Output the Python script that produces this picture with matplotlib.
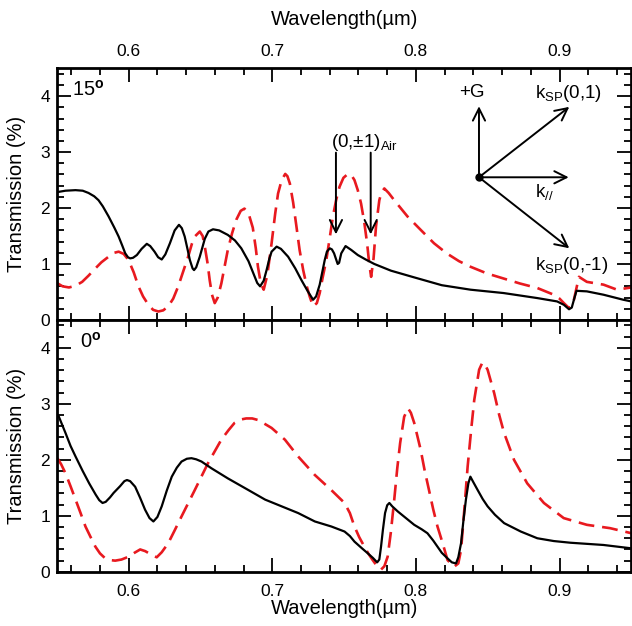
import matplotlib
matplotlib.use("Agg")
import matplotlib.pyplot as plt
from matplotlib.ticker import MultipleLocator

plt.rcParams['font.family'] = ['Liberation Sans', 'DejaVu Sans']
plt.rcParams['mathtext.fontset'] = 'custom'
plt.rcParams['mathtext.rm'] = 'Liberation Sans'
plt.rcParams['mathtext.it'] = 'Liberation Sans'
plt.rcParams['mathtext.bf'] = 'Liberation Sans:bold'

RED = '#e8191f'

# ---- 15 degree incidence ----
wl_15_black = [0.5514, 0.556, 0.563, 0.568, 0.572, 0.576, 0.579, 0.582, 0.586, 0.590,
               0.593, 0.5955, 0.5976, 0.5995, 0.601, 0.603, 0.6057, 0.609, 0.6126, 0.615,
               0.618, 0.6205, 0.623, 0.6255, 0.6287, 0.632, 0.635, 0.637, 0.639, 0.641,
               0.6426, 0.6445, 0.6455, 0.647, 0.6495, 0.653, 0.6555, 0.6587, 0.663, 0.669,
               0.674, 0.6784, 0.6834, 0.687, 0.6895, 0.6915, 0.694, 0.696, 0.698, 0.6995,
               0.703, 0.706, 0.711, 0.716, 0.7203, 0.7245, 0.7284, 0.7305, 0.733, 0.7365,
               0.738, 0.740, 0.7415, 0.743, 0.7455, 0.7465, 0.748, 0.751, 0.755, 0.7595,
               0.765, 0.771, 0.7826, 0.7988, 0.818, 0.838, 0.861, 0.8845, 0.8983, 0.903,
               0.9066, 0.9085, 0.910, 0.9118, 0.919, 0.9306, 0.9444, 0.95]
T_15_black = [2.29, 2.31, 2.32, 2.31, 2.27, 2.21, 2.14, 2.03, 1.85, 1.65,
              1.49, 1.33, 1.19, 1.12, 1.10, 1.11, 1.16, 1.27, 1.36, 1.32,
              1.22, 1.12, 1.08, 1.17, 1.37, 1.60, 1.70, 1.64, 1.49, 1.26,
              1.07, 0.92, 0.89, 0.94, 1.13, 1.45, 1.58, 1.62, 1.60, 1.52,
              1.42, 1.28, 1.05, 0.82, 0.66, 0.60, 0.70, 0.89, 1.10, 1.22,
              1.31, 1.27, 1.13, 0.92, 0.71, 0.52, 0.36, 0.42, 0.63, 1.07,
              1.22, 1.28, 1.26, 1.19, 1.00, 1.02, 1.19, 1.32, 1.25, 1.16,
              1.08, 1.00, 0.88, 0.76, 0.62, 0.54, 0.48, 0.39, 0.33, 0.27,
              0.19, 0.22, 0.36, 0.52, 0.51, 0.45, 0.36, 0.33]

wl_15_red = [0.55, 0.554, 0.5584, 0.563, 0.5676, 0.572, 0.5768, 0.581, 0.586, 0.590,
             0.593, 0.5965, 0.5999, 0.6035, 0.6068, 0.610, 0.6137, 0.617, 0.6206, 0.624,
             0.6275, 0.631, 0.6345, 0.638, 0.6414, 0.644, 0.646, 0.6495, 0.6515, 0.653,
             0.655, 0.6564, 0.658, 0.6599, 0.662, 0.6645, 0.669, 0.672, 0.6749, 0.678,
             0.6806, 0.6835, 0.6864, 0.6885, 0.690, 0.692, 0.694, 0.6965, 0.6995, 0.702,
             0.704, 0.7065, 0.709, 0.7105, 0.7122, 0.7145, 0.7168, 0.719, 0.7215, 0.724,
             0.726, 0.7284, 0.731, 0.733, 0.735, 0.7376, 0.740, 0.7422, 0.7445, 0.7468,
             0.7495, 0.7526, 0.755, 0.7572, 0.7595, 0.7618, 0.764, 0.766, 0.7675, 0.7688,
             0.7705, 0.7722, 0.7745, 0.776, 0.778, 0.781, 0.7849, 0.7941, 0.8033, 0.8126,
             0.8214, 0.830, 0.838, 0.8495, 0.861, 0.8725, 0.8845, 0.896, 0.900, 0.903,
             0.9066, 0.9085, 0.910, 0.9135, 0.919, 0.9306, 0.940, 0.95]
T_15_red = [0.66, 0.60, 0.58, 0.61, 0.68, 0.79, 0.92, 1.03, 1.13, 1.20,
            1.22, 1.18, 1.07, 0.85, 0.60, 0.42, 0.27, 0.18, 0.15, 0.17,
            0.24, 0.38, 0.60, 0.87, 1.13, 1.36, 1.49, 1.58, 1.50, 1.31,
            1.00, 0.71, 0.45, 0.30, 0.40, 0.65, 1.25, 1.55, 1.79, 1.95,
            1.99, 1.90, 1.65, 1.28, 0.95, 0.65, 0.54, 0.80, 1.37, 1.90,
            2.26, 2.50, 2.61, 2.57, 2.44, 2.10, 1.67, 1.25, 0.89, 0.60,
            0.42, 0.24, 0.30, 0.48, 0.75, 1.07, 1.47, 1.85, 2.15, 2.38,
            2.54, 2.61, 2.59, 2.50, 2.32, 2.08, 1.75, 1.37, 1.00, 0.77,
            1.10, 1.67, 2.14, 2.28, 2.35, 2.27, 2.14, 1.85, 1.61, 1.37,
            1.19, 1.05, 0.95, 0.83, 0.74, 0.65, 0.57, 0.45, 0.38, 0.30,
            0.21, 0.25, 0.36, 0.77, 0.68, 0.63, 0.54, 0.58]

# ---- normal incidence ----
wl_0_black = [0.5514, 0.556, 0.5595, 0.563, 0.568, 0.5725, 0.577, 0.5795, 0.5818, 0.584,
              0.587, 0.5895, 0.594, 0.597, 0.5988, 0.601, 0.6045, 0.608, 0.6114, 0.6145,
              0.6172, 0.620, 0.623, 0.6265, 0.630, 0.6335, 0.6368, 0.6405, 0.6437, 0.647,
              0.6507, 0.6576, 0.669, 0.6834, 0.695, 0.7065, 0.718, 0.7296, 0.7411, 0.7503,
              0.754, 0.7572, 0.762, 0.7665, 0.770, 0.773, 0.7745, 0.7757, 0.777, 0.7785,
              0.780, 0.7815, 0.7835, 0.7873, 0.7988, 0.804, 0.808, 0.812, 0.815, 0.818,
              0.822, 0.825, 0.8279, 0.8295, 0.8314, 0.833, 0.8348, 0.8365, 0.8379, 0.840,
              0.843, 0.8465, 0.8499, 0.855, 0.8614, 0.873, 0.8845, 0.896, 0.9076, 0.9306,
              0.95]
T_0_black = [2.77, 2.48, 2.25, 2.06, 1.80, 1.58, 1.38, 1.28, 1.23, 1.25,
             1.33, 1.41, 1.53, 1.62, 1.64, 1.62, 1.52, 1.32, 1.11, 0.96,
             0.90, 0.98, 1.17, 1.45, 1.70, 1.86, 1.97, 2.02, 2.03, 2.01,
             1.97, 1.85, 1.67, 1.46, 1.29, 1.17, 1.05, 0.90, 0.81, 0.72,
             0.64, 0.54, 0.43, 0.33, 0.25, 0.17, 0.22, 0.45, 0.75, 1.05,
             1.19, 1.23, 1.17, 1.08, 0.84, 0.76, 0.69, 0.56, 0.45, 0.34,
             0.24, 0.17, 0.15, 0.26, 0.51, 0.90, 1.29, 1.58, 1.70, 1.60,
             1.46, 1.30, 1.17, 1.02, 0.87, 0.72, 0.60, 0.55, 0.52, 0.48,
             0.42]

wl_0_red = [0.5504, 0.553, 0.556, 0.5595, 0.563, 0.5665, 0.5699, 0.5735, 0.5768, 0.580,
            0.5837, 0.587, 0.5906, 0.595, 0.5999, 0.604, 0.608, 0.6115, 0.6149, 0.6195,
            0.623, 0.6275, 0.632, 0.6368, 0.646, 0.6552, 0.6645, 0.6695, 0.6737, 0.678,
            0.6818, 0.686, 0.6903, 0.6995, 0.7088, 0.718, 0.7296, 0.7411, 0.7503, 0.754,
            0.7572, 0.7605, 0.7641, 0.767, 0.7699, 0.773, 0.7757, 0.778, 0.7803, 0.7825,
            0.7849, 0.787, 0.789, 0.7918, 0.7945, 0.7965, 0.7988, 0.8033, 0.806, 0.8091,
            0.812, 0.815, 0.8185, 0.822, 0.8265, 0.8295, 0.8314, 0.8335, 0.836, 0.8385,
            0.8406, 0.844, 0.8463, 0.848, 0.8499, 0.8545, 0.858, 0.8614, 0.8683, 0.8775,
            0.8891, 0.9029, 0.919, 0.9352, 0.95]
T_0_red = [2.03, 1.92, 1.76, 1.53, 1.29, 1.05, 0.81, 0.62, 0.45, 0.33,
           0.24, 0.21, 0.20, 0.22, 0.27, 0.34, 0.40, 0.37, 0.32, 0.26,
           0.35, 0.51, 0.74, 0.99, 1.46, 1.94, 2.36, 2.53, 2.66, 2.72,
           2.74, 2.74, 2.71, 2.57, 2.36, 2.06, 1.73, 1.46, 1.23, 1.05,
           0.81, 0.62, 0.45, 0.32, 0.21, 0.10, 0.04, 0.10, 0.27, 0.70,
           1.29, 1.85, 2.30, 2.77, 2.92, 2.84, 2.66, 2.18, 1.82, 1.46,
           1.12, 0.81, 0.52, 0.21, 0.09, 0.15, 0.39, 1.05, 1.88, 2.55,
           3.07, 3.61, 3.74, 3.70, 3.61, 3.19, 2.80, 2.48, 2.00, 1.58,
           1.23, 0.96, 0.84, 0.78, 0.69]

x_ticks = [0.6, 0.7, 0.8, 0.9]
y_ticks = [0, 1, 2, 3, 4]

fig = plt.figure(figsize=(6.32, 6.26), dpi=100)
ax_top = fig.add_axes([0.090, 0.489, 0.909, 0.402])
ax_bot = fig.add_axes([0.090, 0.0865, 0.909, 0.4025])

dash = (0, (6.0, 3.0))
for ax, wb, tb, wr, tr in [(ax_top, wl_15_black, T_15_black, wl_15_red, T_15_red),
                           (ax_bot, wl_0_black, T_0_black, wl_0_red, T_0_red)]:
    ax.plot(wr, tr, color=RED, lw=1.9, linestyle=dash)
    ax.plot(wb, tb, color='black', lw=1.6)
    ax.set_xlim(0.55, 0.95)
    ax.set_ylim(0, 4.5)
    ax.set_xticks(x_ticks)
    ax.set_yticks(y_ticks)
    ax.xaxis.set_minor_locator(MultipleLocator(0.02))
    ax.yaxis.set_minor_locator(MultipleLocator(0.2))
    ax.tick_params(which='both', direction='in', top=True, bottom=True,
                   left=True, right=True, labelsize=12.5, width=1.3)
    ax.tick_params(which='major', length=10)
    ax.tick_params(which='minor', length=5)
    ax.tick_params(axis='y', pad=5)
    for s in ax.spines.values():
        s.set_linewidth(2)
    ax.set_ylabel('Transmission (%)', fontsize=14.5, labelpad=10)

ax_top.tick_params(axis='x', labeltop=True, labelbottom=False, pad=7)
ax_top.xaxis.set_label_position('top')
ax_top.set_xlabel('Wavelength(\u00b5m)', fontsize=14.5, labelpad=13)
ax_bot.tick_params(axis='x', pad=9)
ax_bot.set_xlabel('Wavelength(\u00b5m)', fontsize=14.5, labelpad=0)

ax_top.text(0.026, 0.955, '15$^{\\mathbf{o}}$', transform=ax_top.transAxes,
            fontsize=14.5, va='top', ha='left')
ax_bot.text(0.040, 0.955, '0$^{\\mathbf{o}}$', transform=ax_bot.transAxes,
            fontsize=14.5, va='top', ha='left')

# (0,±1) air Rayleigh anomaly markers
arrow_kw = dict(arrowstyle='->', lw=1.4, color='black', mutation_scale=22)
for xa in (0.7443, 0.7685):
    ax_top.annotate('', xy=(xa, 1.48), xytext=(xa, 3.04), arrowprops=arrow_kw)
ax_top.text(0.741, 3.18, '(0,\u00b11)$_{\\mathrm{Air}}$', fontsize=13.5,
            ha='left', va='center')

# wave-vector diagram
ox, oy = 0.8439, 2.55
ax_top.plot([ox], [oy], 'o', color='black', ms=5)
for ex, ey in [(ox, 3.87), (0.9083, 3.84), (0.9083, oy), (0.9083, 1.25)]:
    ax_top.annotate('', xy=(ex, ey), xytext=(ox, oy), arrowprops=arrow_kw)
ax_top.text(0.839, 4.06, '+G', fontsize=13.5, ha='center', va='center')
ax_top.text(0.906, 4.04, 'k$_{\\mathrm{SP}}$(0,1)', fontsize=13.5, ha='center', va='center')
ax_top.text(0.8827, 2.29, 'k$_{//}$', fontsize=13.5, ha='left', va='center')
ax_top.text(0.9083, 0.98, 'k$_{\\mathrm{SP}}$(0,-1)', fontsize=13.5, ha='center', va='center')

fig.savefig('out.png', dpi=100)
